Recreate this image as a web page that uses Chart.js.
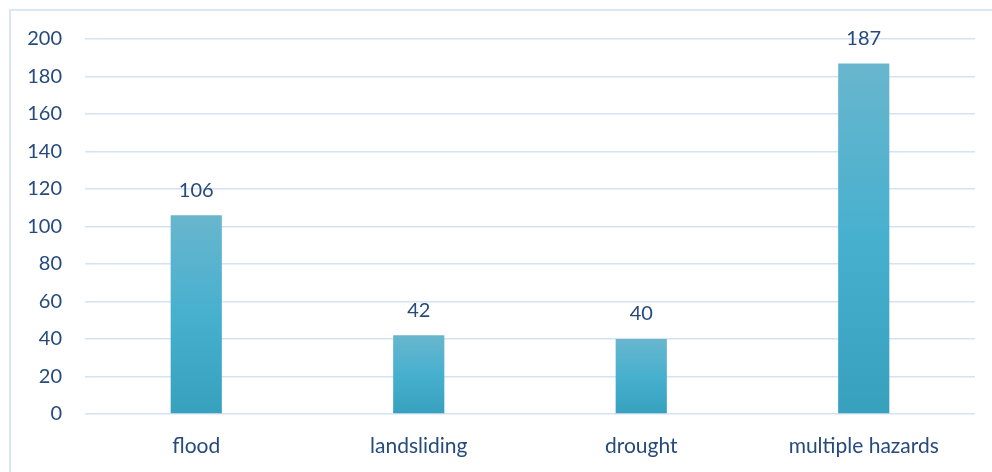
<!DOCTYPE html>
<html>
<head>
<meta charset="utf-8">
<script src="https://cdn.jsdelivr.net/npm/chart.js@4"></script>
<style>
  html, body { margin: 0; padding: 0; background: #fff; }
  #wrap { position: relative; width: 992px; height: 472px; overflow: hidden; }
  #frame { position: absolute; left: 9px; top: 9px; width: 1000px; height: 480px;
           border-top: 2px solid #dbe6f3; border-left: 2px solid #dbe6f3; }
  canvas { position: absolute; left: 0; top: 0; }
</style>
</head>
<body>
<div id="wrap">
  <div id="frame"></div>
  <canvas id="hazardChart" width="992" height="472"></canvas>
</div>
<script>
// chart data
const categories = ['flood', 'landsliding', 'drought', 'multiple hazards'];
const counts = [106, 42, 40, 187];
const yTicks = [0, 20, 40, 60, 80, 100, 120, 140, 160, 180, 200];

const textColor = '#264a7c';
const fontFamily = 'Lato, "Open Sans", sans-serif';

// each bar gets its own top-to-bottom gradient
function barGradient(context) {
    const chart = context.chart;
    const { ctx, chartArea, scales } = chart;
    if (!chartArea || context.parsed === undefined) return '#4ab0cf';
    const top = scales.y.getPixelForValue(context.parsed.y);
    const bottom = scales.y.getPixelForValue(0);
    const g = ctx.createLinearGradient(0, top, 0, bottom);
    g.addColorStop(0, '#68b6cd');
    g.addColorStop(0.5, '#47b0cf');
    g.addColorStop(1, '#37a0bd');
    return g;
}

const valueLabels = {
    id: 'valueLabels',
    afterDatasetsDraw(chart) {
        const { ctx } = chart;
        ctx.save();
        ctx.font = '20px ' + fontFamily;
        ctx.fillStyle = textColor;
        ctx.textAlign = 'center';
        ctx.textBaseline = 'middle';
        chart.data.datasets.forEach((dataset, i) => {
            chart.getDatasetMeta(i).data.forEach((bar, j) => {
                ctx.fillText(dataset.data[j], bar.x, bar.y - 25);
            });
        });
        ctx.restore();
    }
};

new Chart(document.getElementById('hazardChart').getContext('2d'), {
    type: 'bar',
    data: {
        labels: categories,
        datasets: [{
            data: counts,
            backgroundColor: barGradient,
            borderWidth: 0,
            barPercentage: 0.23,
            categoryPercentage: 1
        }]
    },
    options: {
        responsive: false,
        animation: false,
        layout: { padding: { top: 39, right: 17, left: 0, bottom: 0 } },
        plugins: {
            legend: { display: false },
            tooltip: { enabled: false }
        },
        scales: {
            x: {
                grid: { display: false },
                border: { display: false },
                ticks: { color: textColor, font: { size: 21, family: fontFamily }, padding: 12 },
                afterFit(scale) { scale.height = 58; }
            },
            y: {
                min: 0,
                max: 200,
                afterBuildTicks(scale) { scale.ticks = yTicks.map(v => ({ value: v })); },
                grid: { color: '#d5e2f4', lineWidth: 1.5, drawTicks: false },
                border: { display: false },
                ticks: { color: textColor, font: { size: 20, family: fontFamily }, padding: 23 },
                afterFit(scale) { scale.width = 85; }
            }
        }
    },
    plugins: [valueLabels]
});
</script>
</body>
</html>
